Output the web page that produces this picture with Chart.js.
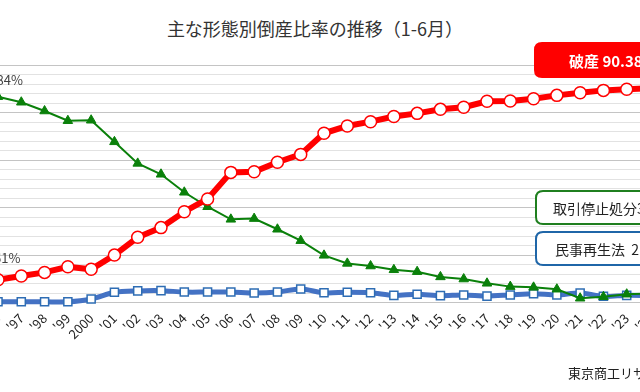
<!DOCTYPE html>
<html>
<head>
<meta charset="utf-8">
<script src="https://cdn.jsdelivr.net/npm/chart.js@4/dist/chart.umd.min.js"></script>
<style>
  body { margin: 0; background: #fff; }
  #wrap { position: relative; width: 640px; height: 392px; overflow: hidden; background: #fff; font-family: "Noto Sans CJK JP", sans-serif; }
  #title { position: absolute; left: 0; top: 15px; width: 630px; text-align: center; font-size: 18px; line-height: 26px; color: #333; }
  #holder { position: absolute; left: -60px; top: 0; width: 760px; height: 392px; }
  #src { position: absolute; left: 568px; top: 363px; font-size: 13px; line-height: 20px; color: #222; white-space: nowrap; }
</style>
</head>
<body>
<div id="wrap">
  <div id="title">主な形態別倒産比率の推移（1-6月）</div>
  <div id="holder"><canvas id="chart" width="760" height="392"></canvas></div>
  <div id="src">東京商工リサーチ調べ</div>
</div>
<script>
// years shown on the x axis
var years = ["'96","'97","'98","'99","2000","'01","'02","'03","'04","'05","'06","'07","'08","'09",
             "'10","'11","'12","'13","'14","'15","'16","'17","'18","'19","'20","'21","'22","'23","'24"];

// 破産 (%)
var bankruptcy = [9.61, 11.2, 12.7, 15.1, 14.0, 20.0, 27.5, 31.6, 38.3, 43.7, 54.9, 55.2, 59.2, 62.5,
                  71.4, 74.5, 76.3, 78.5, 79.8, 81.5, 82.4, 84.9, 85.0, 86.0, 87.4, 88.5, 89.5, 90.0, 90.38];

// 取引停止処分 (%)
var suspension = [86.84, 84.5, 80.8, 76.7, 76.9, 67.8, 58.7, 54.1, 46.5, 40.4, 35.1, 35.4, 30.9, 26.1,
                  19.9, 16.5, 15.4, 13.8, 13.0, 10.8, 9.9, 8.1, 6.7, 6.4, 5.6, 1.8, 2.4, 3.5, 3.80];

// 民事再生法 (%)
var rehab = [0.3, 0.3, 0.3, 0.3, 1.5, 4.3, 4.9, 5.0, 4.4, 4.4, 4.4, 4.0, 4.4, 5.7,
             4.1, 4.3, 4.1, 3.0, 3.5, 2.9, 3.2, 2.7, 3.2, 3.7, 3.2, 4.0, 2.6, 3.0, 2.90];

var boxes = [
    { text: "破産 90.38%", fill: "#ff0000", stroke: "#ff0000", color: "#fff", font: "bold 15px 'Noto Sans CJK JP'", x: 595, y: 43, h: 34, tx: 629 },
    { text: "取引停止処分3.80%", fill: "#fff", stroke: "#1f7f1f", color: "#222", font: "14px 'Noto Sans CJK JP'", x: 596, y: 191, h: 33, tx: 613 },
    { text: "民事再生法  2.90%", fill: "#fff", stroke: "#1f66a8", color: "#222", font: "14px 'Noto Sans CJK JP'", x: 596, y: 232, h: 33, tx: 615 }
];

function roundRect(ctx, x, y, w, h, r) {
    ctx.beginPath();
    ctx.moveTo(x + r, y);
    ctx.lineTo(x + w - r, y);
    ctx.quadraticCurveTo(x + w, y, x + w, y + r);
    ctx.lineTo(x + w, y + h - r);
    ctx.quadraticCurveTo(x + w, y + h, x + w - r, y + h);
    ctx.lineTo(x + r, y + h);
    ctx.quadraticCurveTo(x, y + h, x, y + h - r);
    ctx.lineTo(x, y + r);
    ctx.quadraticCurveTo(x, y, x + r, y);
    ctx.closePath();
}

var extras = {
    id: "extras",
    afterDatasetsDraw: function (chart) {
        var ctx = chart.ctx;
        ctx.save();
        // first-year value labels: [dataset, dx of text end, dy]
        ctx.font = "13px 'Noto Sans CJK JP'";
        ctx.fillStyle = "#404040";
        ctx.textAlign = "right";
        ctx.textBaseline = "middle";
        [[0, 22.5, -22], [1, 25, -16.5]].forEach(function (d) {
            var pt = chart.getDatasetMeta(d[0]).data[0];
            var v = chart.data.datasets[d[0]].data[0];
            ctx.fillText(v.toFixed(2) + "%", pt.x + d[1], pt.y + d[2]);
        });
        // callout boxes
        boxes.forEach(function (b) {
            roundRect(ctx, b.x, b.y, 160, b.h, 7);
            ctx.fillStyle = b.fill;
            ctx.fill();
            ctx.lineWidth = 2;
            ctx.strokeStyle = b.stroke;
            ctx.stroke();
            ctx.font = b.font;
            ctx.fillStyle = b.color;
            ctx.textAlign = "left";
            ctx.fillText(b.text, b.tx, b.y + b.h / 2 + 1);
        });
        ctx.restore();
    }
};

new Chart("chart", {
    type: "line",
    data: {
        labels: years,
        datasets: [{
            label: "破産",
            data: bankruptcy,
            borderColor: "#ff0000",
            borderWidth: 6,
            pointStyle: "circle",
            pointRadius: 6,
            pointBorderWidth: 1.5,
            pointBackgroundColor: "#fff",
            pointBorderColor: "#ff0000",
            tension: 0,
            clip: false
        }, {
            label: "取引停止処分",
            data: suspension,
            borderColor: "#0a800a",
            borderWidth: 2,
            pointStyle: "triangle",
            pointRadius: 5.5,
            pointBorderWidth: 1,
            pointBackgroundColor: "#0a800a",
            pointBorderColor: "#0a800a",
            tension: 0,
            clip: false
        }, {
            label: "民事再生法",
            data: rehab,
            borderColor: "#4472c4",
            borderWidth: 5,
            pointStyle: "rect",
            pointRadius: 5.7,
            pointBorderWidth: 1.5,
            pointBackgroundColor: "#fff",
            pointBorderColor: "#2e6db4",
            tension: 0.3,
            clip: false
        }]
    },
    options: {
        responsive: false,
        animation: false,
        devicePixelRatio: 1,
        layout: { padding: { left: 58, right: 50, top: 65.5, bottom: 0 } },
        plugins: { legend: { display: false }, tooltip: { enabled: false } },
        scales: {
            x: {
                grid: { display: false },
                border: { display: false },
                ticks: {
                    autoSkip: false,
                    minRotation: 45,
                    maxRotation: 45,
                    padding: 0,
                    color: "#222",
                    font: { family: "'Noto Sans CJK JP'", size: 13 }
                },
                afterFit: function (s) { s.height = 89.5; }
            },
            y: {
                min: 0,
                max: 100,
                border: { display: false },
                ticks: { display: false, stepSize: 4 },
                grid: {
                    drawTicks: false,
                    color: function (c) { return c.tick.value % 20 === 0 ? "#c4c4c4" : "#e2e2e2"; }
                },
                afterFit: function (s) { s.width = 0; }
            }
        }
    },
    plugins: [extras]
});
</script>
</body>
</html>
